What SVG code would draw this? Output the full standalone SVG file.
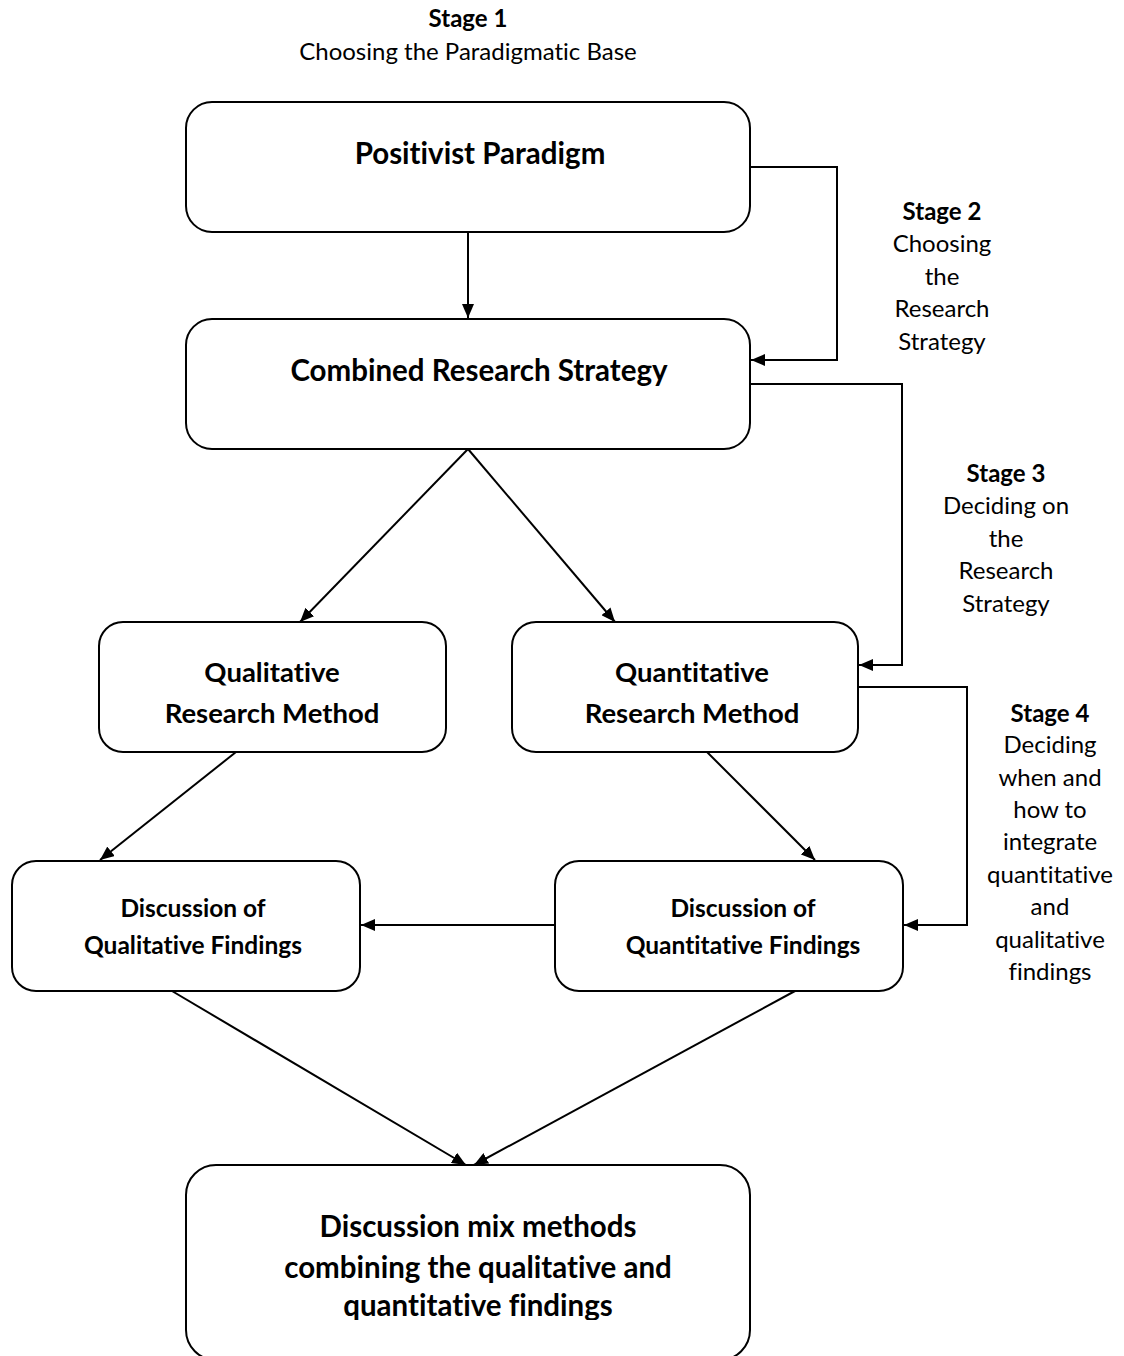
<svg xmlns="http://www.w3.org/2000/svg" width="1124" height="1356" viewBox="0 0 1124 1356">
<defs>
<marker id="ah" viewBox="0 0 14 12" refX="14" refY="6" markerWidth="14" markerHeight="12" markerUnits="userSpaceOnUse" orient="auto">
<path d="M0,0 L14,6 L0,12 Z" fill="#000"/>
</marker>
<clipPath id="clip7"><rect x="186" y="1165" width="564" height="155"/></clipPath>
</defs>
<style>
.box{fill:#fff;stroke:#000;stroke-width:2}
.t{font-family:Lato,"Open Sans","Liberation Sans",sans-serif;fill:#000;text-anchor:middle;font-variant-ligatures:none;font-feature-settings:"liga" 0,"clig" 0,"dlig" 0}
.b{font-weight:bold}
.big{font-size:29.5px}
.mid{font-size:27.5px}
.sm{font-size:24.5px}
.lab{font-size:24px}
.con{fill:none;stroke:#000;stroke-width:2}
</style>
<rect width="1124" height="1356" fill="#fff"/>
<g id="stage1">
<text class="t b lab" x="468" y="27">Stage 1</text>
<text class="t lab" x="468" y="60">Choosing the Paradigmatic Base</text>
</g>
<g id="stage2">
<text class="t b lab" x="942" y="220">Stage 2</text>
<text class="t lab" x="942" y="252">Choosing</text>
<text class="t lab" x="942" y="285">the</text>
<text class="t lab" x="942" y="317">Research</text>
<text class="t lab" x="942" y="350">Strategy</text>
</g>
<g id="stage3">
<text class="t b lab" x="1006" y="482">Stage 3</text>
<text class="t lab" x="1006" y="514">Deciding on</text>
<text class="t lab" x="1006" y="547">the</text>
<text class="t lab" x="1006" y="579">Research</text>
<text class="t lab" x="1006" y="612">Strategy</text>
</g>
<g id="stage4">
<text class="t b lab" x="1050" y="722">Stage 4</text>
<text class="t lab" x="1050" y="753">Deciding</text>
<text class="t lab" x="1050" y="786">when and</text>
<text class="t lab" x="1050" y="818">how to</text>
<text class="t lab" x="1050" y="850">integrate</text>
<text class="t lab" x="1050" y="883">quantitative</text>
<text class="t lab" x="1050" y="915">and</text>
<text class="t lab" x="1050" y="948">qualitative</text>
<text class="t lab" x="1050" y="980">findings</text>
</g>
<g id="connectors">
<line class="con" x1="468" y1="232" x2="468" y2="318" marker-end="url(#ah)"/>
<polyline class="con" points="750,167 837,167 837,360 751,360" marker-end="url(#ah)"/>
<polyline class="con" points="750,384 902,384 902,665 859,665" marker-end="url(#ah)"/>
<polyline class="con" points="858,687 967,687 967,925 904,925" marker-end="url(#ah)"/>
<line class="con" x1="468" y1="449" x2="300" y2="622" marker-end="url(#ah)"/>
<line class="con" x1="468" y1="449" x2="615" y2="622" marker-end="url(#ah)"/>
<line class="con" x1="236" y1="752" x2="100" y2="860" marker-end="url(#ah)"/>
<line class="con" x1="707" y1="752" x2="815" y2="860" marker-end="url(#ah)"/>
<line class="con" x1="555" y1="925" x2="361" y2="925" marker-end="url(#ah)"/>
<line class="con" x1="172" y1="991" x2="466" y2="1165" marker-end="url(#ah)"/>
<line class="con" x1="795" y1="991" x2="474" y2="1165" marker-end="url(#ah)"/>
</g>
<g id="n1">
<rect class="box" x="186" y="102" width="564" height="130" rx="26"/>
<text class="t b big" x="480" y="164">Positivist Paradigm</text>
</g>
<g id="n2">
<rect class="box" x="186" y="319" width="564" height="130" rx="26"/>
<text class="t b big" x="479" y="381">Combined Research Strategy</text>
</g>
<g id="n3">
<rect class="box" x="99" y="622" width="347" height="130" rx="24"/>
<text class="t b mid" x="272" y="682">Qualitative</text>
<text class="t b mid" x="272" y="723">Research Method</text>
</g>
<g id="n4">
<rect class="box" x="512" y="622" width="346" height="130" rx="24"/>
<text class="t b mid" x="692" y="682">Quantitative</text>
<text class="t b mid" x="692" y="723">Research Method</text>
</g>
<g id="n5">
<rect class="box" x="12" y="861" width="348" height="130" rx="24"/>
<text class="t b sm" x="193" y="917">Discussion of</text>
<text class="t b sm" x="193" y="954">Qualitative Findings</text>
</g>
<g id="n6">
<rect class="box" x="555" y="861" width="348" height="130" rx="24"/>
<text class="t b sm" x="743" y="917">Discussion of</text>
<text class="t b sm" x="743" y="954">Quantitative Findings</text>
</g>
<g id="n7">
<rect class="box" x="186" y="1165" width="564" height="195" rx="30"/>
<g clip-path="url(#clip7)">
<text class="t b big" x="478" y="1237">Discussion mix methods</text>
<text class="t b big" x="478" y="1278">combining the qualitative and</text>
<text class="t b big" x="478" y="1316">quantitative findings</text>
</g>
</g>
</svg>
